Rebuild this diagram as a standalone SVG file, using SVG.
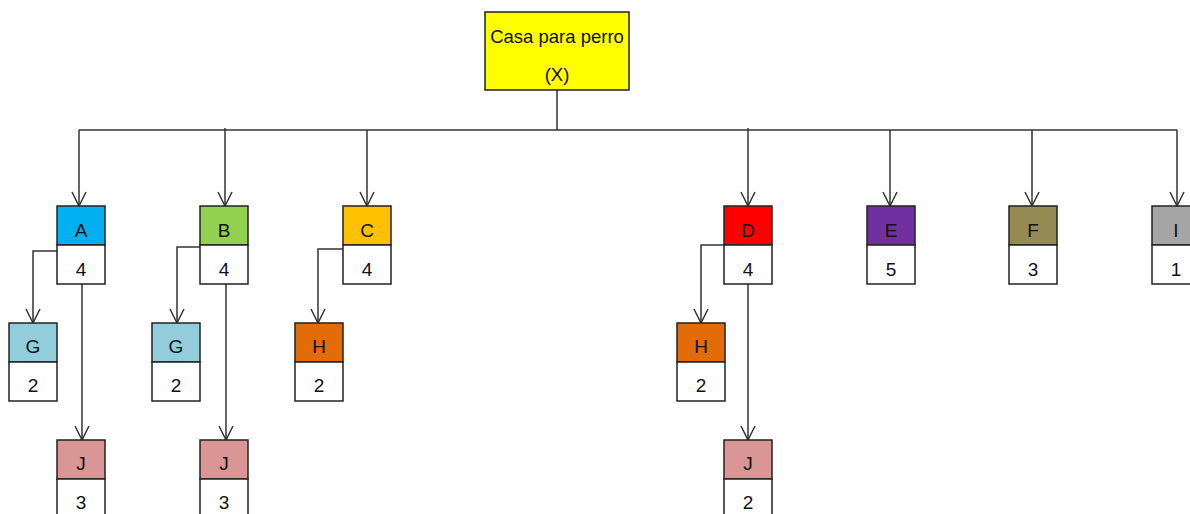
<svg xmlns="http://www.w3.org/2000/svg" width="1190" height="514" viewBox="0 0 1190 514">
<style>
.box{stroke:#222;stroke-width:1.5}
.w{fill:#fff}
.t{font-family:"Liberation Sans",Arial,sans-serif;font-size:19px;fill:#111;text-anchor:middle}
.tt{font-family:"Liberation Sans",Arial,sans-serif;font-size:18.5px;fill:#111;text-anchor:middle}
.c{fill:none;stroke:#333;stroke-width:1.5}
</style>
<defs>
<marker id="arr" viewBox="0 0 16 16" refX="15" refY="8" markerWidth="16" markerHeight="16" markerUnits="userSpaceOnUse" orient="auto">
<path d="M1,1 L15,8 L1,15" fill="none" stroke="#333" stroke-width="1.5"/>
</marker>
</defs>
<rect width="1190" height="514" fill="#fff"/>
<g id="connectors">
<path class="c" d="M557,90 V130"/>
<path class="c" d="M79,130 H1177"/>
<path class="c" d="M79,130 V206" marker-end="url(#arr)"/>
<path class="c" d="M225,128 V206" marker-end="url(#arr)"/>
<path class="c" d="M367,130 V206" marker-end="url(#arr)"/>
<path class="c" d="M748,128 V206" marker-end="url(#arr)"/>
<path class="c" d="M890,130 V206" marker-end="url(#arr)"/>
<path class="c" d="M1032,130 V206" marker-end="url(#arr)"/>
<path class="c" d="M1177,130 V206" marker-end="url(#arr)"/>
<path class="c" d="M57,251 H33 V323" marker-end="url(#arr)"/>
<path class="c" d="M82,284 V440" marker-end="url(#arr)"/>
<path class="c" d="M200,247 H177 V323" marker-end="url(#arr)"/>
<path class="c" d="M226,284 V440" marker-end="url(#arr)"/>
<path class="c" d="M343,249 H318 V323" marker-end="url(#arr)"/>
<path class="c" d="M724,245 H701 V323" marker-end="url(#arr)"/>
<path class="c" d="M748,284 V440" marker-end="url(#arr)"/>
</g>
<g id="X">
<rect class="box" x="485" y="12" width="144" height="78" fill="#FFFF00"/>
<text class="tt" x="557" y="43">Casa para perro</text>
<text class="tt" x="557" y="81">(X)</text>
</g>
<g id="A">
<rect class="box" x="57" y="206" width="48" height="39" fill="#00B0F0"/>
<rect class="box w" x="57" y="245" width="48" height="39"/>
<text class="t" x="81" y="237">A</text><text class="t" x="81" y="276">4</text>
</g>
<g id="B">
<rect class="box" x="200" y="206" width="48" height="39" fill="#92D050"/>
<rect class="box w" x="200" y="245" width="48" height="39"/>
<text class="t" x="224" y="237">B</text><text class="t" x="224" y="276">4</text>
</g>
<g id="C">
<rect class="box" x="343" y="206" width="48" height="39" fill="#FFC000"/>
<rect class="box w" x="343" y="245" width="48" height="39"/>
<text class="t" x="367" y="237">C</text><text class="t" x="367" y="276">4</text>
</g>
<g id="D">
<rect class="box" x="724" y="206" width="48" height="39" fill="#FF0000"/>
<rect class="box w" x="724" y="245" width="48" height="39"/>
<text class="t" x="748" y="237">D</text><text class="t" x="748" y="276">4</text>
</g>
<g id="E">
<rect class="box" x="867" y="206" width="48" height="39" fill="#7030A0"/>
<rect class="box w" x="867" y="245" width="48" height="39"/>
<text class="t" x="891" y="237">E</text><text class="t" x="891" y="276">5</text>
</g>
<g id="F">
<rect class="box" x="1009" y="206" width="48" height="39" fill="#948A54"/>
<rect class="box w" x="1009" y="245" width="48" height="39"/>
<text class="t" x="1033" y="237">F</text><text class="t" x="1033" y="276">3</text>
</g>
<g id="I">
<rect class="box" x="1152" y="206" width="48" height="39" fill="#A5A5A5"/>
<rect class="box w" x="1152" y="245" width="48" height="39"/>
<text class="t" x="1176" y="237">I</text><text class="t" x="1176" y="276">1</text>
</g>
<g id="G1">
<rect class="box" x="9" y="323" width="48" height="39" fill="#92CDDC"/>
<rect class="box w" x="9" y="362" width="48" height="39"/>
<text class="t" x="33" y="353">G</text><text class="t" x="33" y="392">2</text>
</g>
<g id="G2">
<rect class="box" x="152" y="323" width="48" height="39" fill="#92CDDC"/>
<rect class="box w" x="152" y="362" width="48" height="39"/>
<text class="t" x="176" y="353">G</text><text class="t" x="176" y="392">2</text>
</g>
<g id="H1">
<rect class="box" x="295" y="323" width="48" height="39" fill="#E36C09"/>
<rect class="box w" x="295" y="362" width="48" height="39"/>
<text class="t" x="319" y="353">H</text><text class="t" x="319" y="392">2</text>
</g>
<g id="H2">
<rect class="box" x="677" y="323" width="48" height="39" fill="#E36C09"/>
<rect class="box w" x="677" y="362" width="48" height="39"/>
<text class="t" x="701" y="353">H</text><text class="t" x="701" y="392">2</text>
</g>
<g id="J1">
<rect class="box" x="57" y="440" width="48" height="39" fill="#D99694"/>
<rect class="box w" x="57" y="479" width="48" height="39"/>
<text class="t" x="81" y="470">J</text><text class="t" x="81" y="509">3</text>
</g>
<g id="J2">
<rect class="box" x="200" y="440" width="48" height="39" fill="#D99694"/>
<rect class="box w" x="200" y="479" width="48" height="39"/>
<text class="t" x="224" y="470">J</text><text class="t" x="224" y="509">3</text>
</g>
<g id="J3">
<rect class="box" x="724" y="440" width="48" height="39" fill="#D99694"/>
<rect class="box w" x="724" y="479" width="48" height="39"/>
<text class="t" x="748" y="470">J</text><text class="t" x="748" y="509">2</text>
</g>
</svg>
